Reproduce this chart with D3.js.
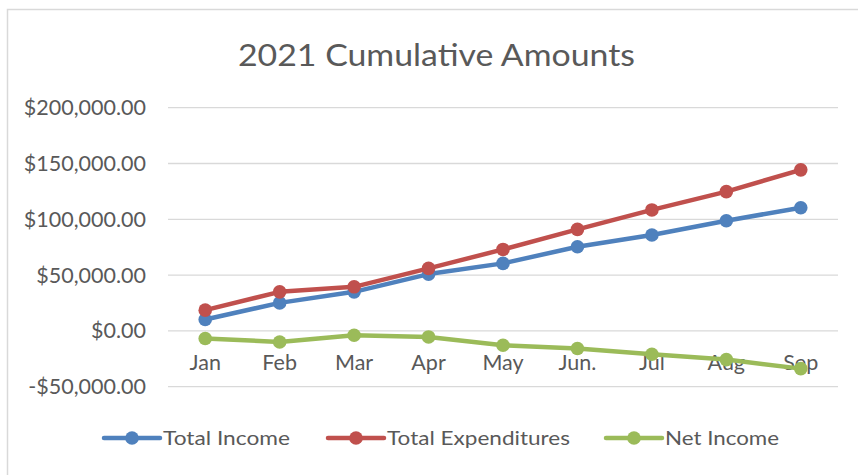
<!DOCTYPE html>
<html>
<head>
<meta charset="utf-8">
<script src="https://cdn.jsdelivr.net/npm/d3@7"></script>
<style>
  html, body { margin: 0; padding: 0; background: #ffffff; }
  svg { display: block; }
  text { font-family: Lato, "Open Sans", sans-serif; fill: #595959; }
</style>
</head>
<body>
<svg id="chart" width="858" height="475"></svg>
<script>
const title = "2021 Cumulative Amounts";
const months = ["Jan", "Feb", "Mar", "Apr", "May", "Jun.", "Jul", "Aug", "Sep"];
const totalIncome = [10200, 25100, 35000, 50900, 60500, 75400, 85900, 98700, 110400];
const totalExpenditures = [18600, 35000, 39500, 56000, 73000, 91000, 108400, 124800, 144300];
const netIncome = [-6800, -9900, -3900, -5400, -12800, -15800, -20900, -25700, -33800];
const seriesNames = ["Total Income", "Total Expenditures", "Net Income"];
const seriesColors = ["#4F81BD", "#C0504D", "#9BBB59"];
const yTicks = [-50000, 0, 50000, 100000, 150000, 200000];

const series = [totalIncome, totalExpenditures, netIncome];

const svg = d3.select("#chart");

// chart border
svg.append("rect")
  .attr("x", 7.5).attr("y", 9.5)
  .attr("width", 900).attr("height", 500)
  .attr("fill", "#ffffff")
  .attr("stroke", "#d9d9d9").attr("stroke-width", 1.5);

const x = d3.scaleBand().domain(months).range([168, 838]).padding(0);
const y = d3.scaleLinear().domain([-50000, 200000]).range([386.7, 107.7]);
const cx = d => x(d) + x.bandwidth() / 2;

// title
svg.append("text")
  .attr("x", 436.5).attr("y", 66)
  .attr("text-anchor", "middle")
  .attr("font-size", 31)
  .attr("textLength", 397).attr("lengthAdjust", "spacingAndGlyphs")
  .text(title);

// gridlines
svg.append("g").selectAll("line").data(yTicks).join("line")
  .attr("x1", 168).attr("x2", 838)
  .attr("y1", d => y(d)).attr("y2", d => y(d))
  .attr("stroke", "#d9d9d9").attr("stroke-width", 1.3);

// y axis labels
const fmt = d => (d < 0 ? "-$" : "$") + d3.format(",.2f")(Math.abs(d));
svg.append("g").selectAll("text").data(yTicks).join("text")
  .attr("x", 146).attr("y", d => y(d))
  .attr("dy", "0.35em")
  .attr("text-anchor", "end")
  .attr("font-size", 21.5)
  .text(fmt);

// x axis labels
svg.append("g").selectAll("text").data(months).join("text")
  .attr("x", d => cx(d)).attr("y", 370)
  .attr("text-anchor", "middle")
  .attr("font-size", 21.5)
  .text(d => d);

// lines
const line = d3.line().x((d, i) => cx(months[i])).y(d => y(d));
series.forEach((vals, si) => {
  const g = svg.append("g");
  g.append("path").datum(vals)
    .attr("d", line)
    .attr("fill", "none")
    .attr("stroke", seriesColors[si])
    .attr("stroke-width", 4.5)
    .attr("stroke-linejoin", "round")
    .attr("stroke-linecap", "round");
  g.selectAll("circle").data(vals).join("circle")
    .attr("cx", (d, i) => cx(months[i]))
    .attr("cy", d => y(d))
    .attr("r", 6.8)
    .attr("fill", seriesColors[si]);
});

// legend
const legendX = [104, 328, 606];
const legendTextW = [127, 183, 114];
const ly = 438;
seriesNames.forEach((name, i) => {
  const g = svg.append("g").attr("transform", `translate(${legendX[i]},${ly})`);
  g.append("line").attr("x1", 0).attr("x2", 56).attr("y1", 0).attr("y2", 0)
    .attr("stroke", seriesColors[i]).attr("stroke-width", 4.5).attr("stroke-linecap", "round");
  g.append("circle").attr("cx", 28).attr("cy", 0).attr("r", 6.8).attr("fill", seriesColors[i]);
  g.append("text").attr("x", 59).attr("y", 0).attr("dy", "0.35em")
    .attr("font-size", 20)
    .attr("textLength", legendTextW[i]).attr("lengthAdjust", "spacingAndGlyphs")
    .text(name);
});
</script>
</body>
</html>
